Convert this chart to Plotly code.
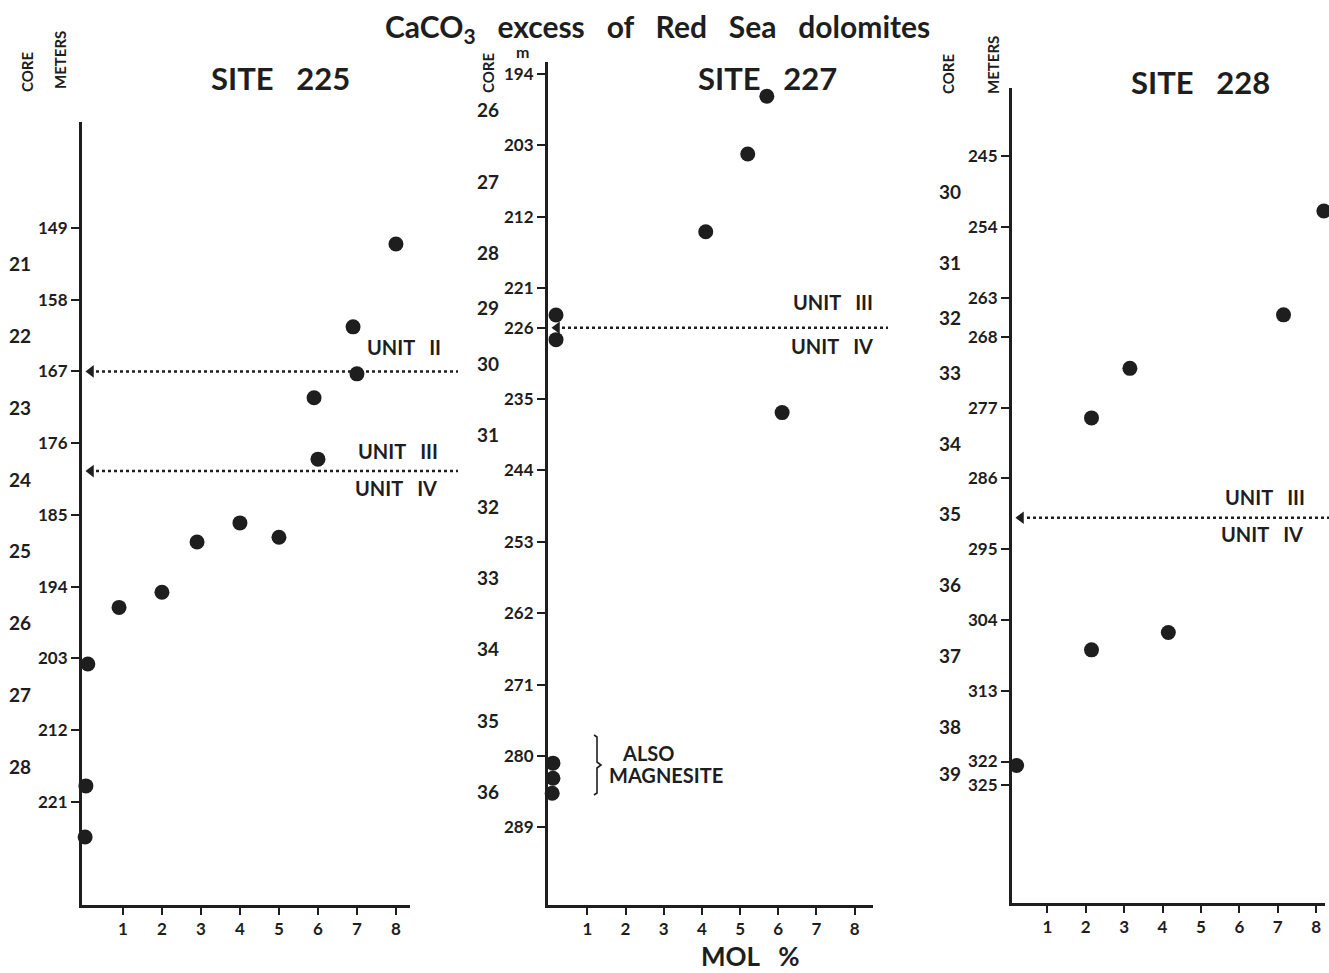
import plotly.graph_objects as go

W, H = 1329, 973

# ---------------- data ----------------
site225_mol = [8.0, 6.9, 7.0, 5.9, 6.0, 4.0, 5.0, 2.9, 2.0, 0.9, 0.1, 0.05, 0.03]
site225_depth = [151.0, 161.4, 167.3, 170.3, 178.0, 186.0, 187.8, 188.4, 194.7, 196.6, 203.7, 219.0, 225.4]
site225_ticks = [149, 158, 167, 176, 185, 194, 203, 212, 221]
site225_cores = [21, 22, 23, 24, 25, 26, 27, 28]
site225_core_depth = [153.5, 162.5, 171.5, 180.5, 189.5, 198.5, 207.5, 216.5]
site225_units = [167.0, 179.5]

site227_mol = [5.7, 5.2, 4.1, 6.1, 0.18, 0.18, 0.1, 0.1, 0.08]
site227_depth = [196.8, 204.1, 213.9, 236.7, 224.4, 227.5, 280.9, 282.8, 284.7]
site227_ticks = [194, 203, 212, 221, 226, 235, 244, 253, 262, 271, 280, 289]
site227_cores = [26, 27, 28, 29, 30, 31, 32, 33, 34, 35, 36]
site227_core_depth = [198.5, 207.5, 216.5, 223.5, 230.5, 239.5, 248.5, 257.5, 266.5, 275.5, 284.5]
site227_units = [226.0]

site228_mol = [8.2, 7.15, 3.15, 2.15, 4.15, 2.15, 0.2]
site228_depth = [252.0, 265.2, 272.0, 278.3, 305.6, 307.8, 322.5]
site228_ticks = [245, 254, 263, 268, 277, 286, 295, 304, 313, 322, 325]
site228_cores = [30, 31, 32, 33, 34, 35, 36, 37, 38, 39]
site228_core_depth = [249.5, 258.5, 265.5, 272.5, 281.5, 290.5, 299.5, 308.5, 317.5, 323.5]
site228_units = [291.0]

mol_ticks = [1, 2, 3, 4, 5, 6, 7, 8]

# ---------------- helpers ----------------
def px(x):
    return x / W

def py(y):
    return 1 - y / H

INK = "#1e1e1e"
FONT = "Lato"

fig = go.Figure()

panels = [
    ("", site225_mol, site225_depth, site225_ticks, site225_cores, site225_core_depth, site225_units,
     (82, 410), (122, 905), [-0.05, 8.36], [233.94, 135.70], 20, (96, 458)),
    ("2", site227_mol, site227_depth, site227_ticks, site227_cores, site227_core_depth, site227_units,
     (548, 873), (62, 905), [-0.03, 8.48], [298.79, 192.49], 488, (562, 888)),
    ("3", site228_mol, site228_depth, site228_ticks, site228_cores, site228_core_depth, site228_units,
     (1012, 1325), (88, 903), [0.08, 8.23], [339.99, 236.35], 950, (1027, 1329)),
]

annotations = []
shapes = []

for i, (suf, mol, dep, ticks, cores, cdep, units, xd, yd, xr, yr, corex, linex) in enumerate(panels):
    xa = "x" + suf
    ya = "y" + suf
    fig.add_trace(go.Scatter(
        x=mol, y=dep, xaxis=xa, yaxis=ya, mode="markers",
        marker=dict(size=15, color=INK), cliponaxis=False, showlegend=False,
        hoverinfo="skip"))
    axis_font = dict(family=FONT, size=17, color=INK, weight=700)
    fig.layout["xaxis" + suf] = dict(
        domain=[px(xd[0]), px(xd[1])], range=xr, anchor=ya,
        showline=True, linewidth=3, linecolor=INK, showgrid=False, zeroline=False,
        tickmode="array", tickvals=mol_ticks, ticktext=[str(t) for t in mol_ticks],
        ticks="outside", ticklen=7, tickwidth=2, tickcolor=INK, tickfont=axis_font,
        fixedrange=True)
    fig.layout["yaxis" + suf] = dict(
        domain=[py(yd[1]), py(yd[0])], range=yr, anchor=xa,
        showline=True, linewidth=3, linecolor=INK, showgrid=False, zeroline=False,
        tickmode="array", tickvals=ticks, ticktext=[str(t) for t in ticks],
        ticks="outside", ticklen=8, tickwidth=2, tickcolor=INK, tickfont=axis_font,
        fixedrange=True)
    # core numbers
    for c, d in zip(cores, cdep):
        annotations.append(dict(x=px(corex), y=d, xref="paper", yref=ya, text=str(c),
                                showarrow=False, font=dict(family=FONT, size=19, color=INK, weight=700),
                                xanchor="center", yanchor="middle"))
    # unit boundaries: dotted line with an arrowhead pointing at the depth axis
    unit_per_px = (xr[1] - xr[0]) / (xd[1] - xd[0])
    for u in units:
        shapes.append(dict(type="line", xref="paper", yref=ya, x0=px(linex[0]), x1=px(linex[1]),
                           y0=u, y1=u, line=dict(color=INK, width=2.5, dash="dot")))
    fig.add_trace(go.Scatter(
        x=[xr[0] + 9 * unit_per_px] * len(units), y=units, xaxis=xa, yaxis=ya, mode="markers",
        marker=dict(symbol="triangle-left", size=11, color=INK), cliponaxis=False,
        showlegend=False, hoverinfo="skip"))

def txt(x, y, s, size, angle=0, weight=700, anchor="center"):
    annotations.append(dict(x=px(x), y=py(y), xref="paper", yref="paper", text=s,
                            showarrow=False, textangle=angle, xanchor=anchor, yanchor="middle",
                            font=dict(family=FONT, size=size, color=INK, weight=weight)))

txt(657, 28, "CaCO<sub>3</sub>   excess   of   Red   Sea   dolomites", 30)
txt(280, 78, "SITE   225", 31)
txt(767, 78, "SITE   227", 31)
txt(1200, 82, "SITE   228", 31)

txt(27, 72, "CORE", 15, angle=-90)
txt(60, 60, "METERS", 15, angle=-90)
txt(488, 73, "CORE", 15, angle=-90)
txt(522, 52, "m", 16)
txt(948, 74, "CORE", 15, angle=-90)
txt(993, 65, "METERS", 15, angle=-90)

txt(404, 347, "UNIT   II", 20)
txt(398, 451, "UNIT   III", 20)
txt(396, 488, "UNIT   IV", 20)
txt(833, 302, "UNIT   III", 20)
txt(832, 346, "UNIT   IV", 20)
txt(1265, 497, "UNIT   III", 20)
txt(1262, 534, "UNIT   IV", 20)

txt(620, 753, "ALSO", 20, anchor="left")
txt(607, 775, "MAGNESITE", 20, anchor="left")
txt(750, 956, "MOL   %", 26)

# bracket for "ALSO MAGNESITE"
bx = px(597)
shapes.append(dict(type="path", xref="paper", yref="paper",
                   path=f"M {px(594)} {py(735)} L {bx} {py(737)} L {bx} {py(762)} L {px(601)} {py(765)} "
                        f"L {bx} {py(768)} L {bx} {py(793)} L {px(594)} {py(795)}",
                   line=dict(color=INK, width=1.6)))

fig.update_layout(
    width=W, height=H, margin=dict(l=0, r=0, t=0, b=0),
    paper_bgcolor="white", plot_bgcolor="white",
    annotations=annotations, shapes=shapes, showlegend=False,
    font=dict(family=FONT, color=INK),
)

fig.write_html("out.html")
